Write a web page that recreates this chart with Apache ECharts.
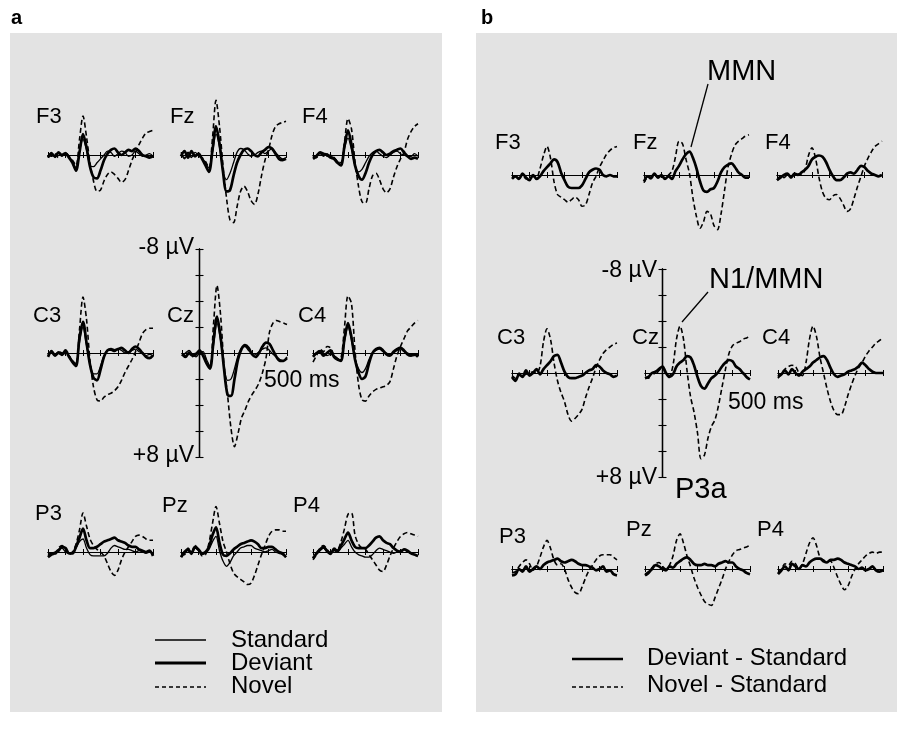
<!DOCTYPE html>
<html>
<head>
<meta charset="utf-8">
<script src="https://cdn.jsdelivr.net/npm/echarts@6/dist/echarts.min.js"></script>
<style>
html,body{margin:0;padding:0;background:#ffffff;}
#c{width:907px;height:729px;}
</style>
</head>
<body>
<div id="c"></div>
<script>
// ---- time axis (ms) ----
const times = [-100,-80,-60,-40,-20,0,20,40,60,80,100,120,140,160,180,200,220,240,260,280,300,320,340,360,380,400,420,440,460,480,500];

// ---- panel a: Standard / Deviant / Novel (µV, negative up) ----
const a_F3_std = [0.1,-0.2,0.2,-0.1,0.1, -0.2,0.1,0.5,1.0,-0.3, -1.2,-0.4,0.8,0.9,0.6, 0.3,0.0,-0.3,-0.2,0.1, -0.1,-0.3,-0.2,0.1,0.0, -0.3,-0.1,0.1,0.0,-0.1, 0.1];
const a_F3_dev = [0.2,-0.1,0.1,-0.2,0.0, -0.1,0.2,0.6,1.2,-0.2, -1.6,-0.6,0.9,1.7,1.8, 1.2,0.4,-0.1,-0.4,-0.5, -0.2,0.0,-0.2,-0.4,-0.3, -0.5,-0.3,0.0,0.1,0.2, 0.1];
const a_F3_nov = [0.0,0.1,-0.1,0.2,0.0, -0.2,0.1,0.4,0.8,-1.2, -3.0,-1.4,0.6,2.0,2.8, 2.7,2.0,1.5,1.3,1.5, 1.8,2.1,1.9,1.2,0.4, -0.2,-0.8,-1.3,-1.7,-1.8, -1.9];

const a_Fz_std = [-0.2,0.3,-0.1,0.2,-0.2, 0.0,0.2,0.6,1.0,-0.2, -1.6,-0.6,1.2,1.9,1.4, 0.6,-0.2,-0.5,-0.4,-0.1, 0.1,0.0,-0.2,-0.3,-0.1, -0.3,-0.5,-0.2,0.1,0.3, 0.2];
const a_Fz_dev = [0.1,-0.3,0.2,-0.3,0.1, -0.1,0.3,0.8,1.3,-0.4, -2.2,-0.9,1.3,2.8,2.7, 1.6,0.6,0.0,-0.4,-0.5, -0.3,0.0,0.1,-0.2,-0.4, -0.6,-0.5,-0.1,0.3,0.4, 0.3];
const a_Fz_nov = [0.0,0.2,-0.2,0.1,0.0, 0.1,0.2,0.5,1.0,-1.3, -4.2,-2.2,0.8,3.3,5.0, 5.2,4.0,2.8,2.4,2.8, 3.5,3.8,3.0,1.6,0.4, -0.4,-1.5,-2.2,-2.4,-2.5, -2.6];

const a_F4_std = [0.2,0.0,-0.2,0.1,-0.1, 0.1,0.2,0.5,0.8,-0.5, -1.3,-0.4,0.8,1.3,1.1, 0.6,0.1,-0.2,-0.3,-0.1, 0.1,0.2,0.0,-0.2,-0.3, -0.1,0.0,0.1,0.1,-0.1, 0.1];
const a_F4_dev = [0.3,0.1,-0.2,-0.1,0.0, 0.2,0.3,0.6,0.8,-0.7, -1.9,-0.8,0.8,1.6,1.9, 1.4,0.6,0.0,-0.3,-0.4, -0.2,0.0,-0.1,-0.3,-0.4, -0.5,-0.2,0.1,0.3,0.2, 0.3];
const a_F4_nov = [0.1,0.2,-0.1,0.0,0.1, 0.0,0.2,0.5,0.6,-1.0, -2.8,-2.0,0.5,2.4,3.6, 3.7,2.6,1.6,1.4,1.9, 2.6,2.9,2.6,1.7,0.9, 0.3,-0.2,-1.2,-1.8,-2.2, -2.4];

const a_C3_std = [0.2,-0.2,0.1,-0.1,0.2, 0.0,0.2,0.6,0.8,-0.8, -2.0,-0.6,0.8,1.6,1.6, 1.0,0.2,-0.2,-0.2,-0.1, -0.3,-0.2,0.0,-0.1,-0.2, -0.3,-0.1,0.0,0.2,0.1, 0.2];
const a_C3_dev = [0.3,-0.1,0.2,0.0,0.1, -0.2,0.3,0.7,1.0,-1.2, -2.4,-0.8,0.9,1.9,2.1, 1.3,0.3,-0.2,-0.3,-0.2, -0.3,-0.4,-0.2,0.0,-0.3, -0.5,-0.3,0.0,0.3,0.4, 0.2];
const a_C3_nov = [0.1,-0.1,0.2,-0.1,0.0, 0.1,0.2,0.6,0.9,-1.8, -4.3,-2.6,0.6,2.6,3.6, 3.7,3.4,3.2,3.1,2.9, 2.6,2.1,1.5,1.0,0.5, -0.1,-0.8,-1.5,-1.8,-1.9, -1.9];

const a_Cz_std = [0.2,0.0,-0.2,0.1,0.3, 0.0,-0.1,0.5,1.0,-0.6, -2.3,-1.0,1.0,2.1,2.0, 1.2,0.2,-0.4,-0.5,-0.2, 0.0,0.1,-0.1,-0.3,-0.4, -0.2,0.1,0.3,0.5,0.6, 0.3];
const a_Cz_dev = [0.1,0.3,0.0,0.2,0.1, -0.2,0.2,0.8,1.2,-0.9, -2.8,-1.3,1.2,3.2,3.3, 2.0,0.5,-0.3,-0.6,-0.4, 0.1,0.3,0.0,-0.5,-0.8, -0.7,-0.2,0.3,0.6,0.6, 0.4];
const a_Cz_nov = [0.0,0.2,-0.1,0.3,0.0, 0.1,0.0,0.6,1.1,-2.2, -5.2,-3.0,0.9,3.2,5.8, 7.2,6.2,5.0,4.4,3.7, 3.2,2.8,2.3,1.5,0.4, -1.6,-2.3,-2.5,-2.4,-2.3, -2.2];

const a_C4_std = [0.2,0.1,-0.2,0.0,0.2, 0.1,0.2,0.4,0.6,-0.9, -2.0,-1.0,0.4,1.2,1.5, 1.2,0.5,0.0,-0.2,-0.3, -0.1,0.0,0.1,0.0,-0.2, -0.3,-0.1,0.0,0.1,0.2, 0.1];
const a_C4_dev = [0.3,0.0,-0.1,0.2,0.0, -0.2,0.3,0.5,0.6,-1.1, -2.3,-1.2,0.5,1.5,2.0, 1.8,0.8,0.0,-0.3,-0.4, -0.2,0.1,0.2,-0.1,-0.3, -0.4,-0.2,0.1,0.2,0.1, 0.3];
const a_C4_nov = [0.7,0.2,-0.3,-0.1,-0.5, -0.4,0.2,0.5,0.4,-2.0, -4.4,-3.8,-0.2,2.4,3.6, 3.7,3.3,3.0,2.8,2.7, 2.6,2.5,2.2,1.2,0.2, -0.5,-1.1,-1.7,-2.0,-2.3, -2.5];

const a_P3_std = [0.3,0.1,0.0,-0.2,-0.3, 0.0,0.1,0.0,-0.3,-0.8, -1.0,-0.3,0.2,0.3,0.3, 0.3,0.3,0.1,-0.3,-0.5, -0.4,-0.3,-0.2,-0.2,-0.1, 0.0,-0.1,0.0,0.1,0.0, 0.2];
const a_P3_dev = [0.4,0.2,0.1,-0.1,-0.4, -0.3,0.1,0.1,-0.4,-1.1, -1.8,-0.9,-0.3,-0.3,-0.4, -0.6,-0.8,-0.9,-1.0,-1.1, -0.9,-0.8,-0.7,-0.5,-0.4, -0.4,-0.2,-0.1,0.0,-0.1, 0.3];
const a_P3_nov = [0.2,0.1,0.2,-0.3,-0.5, -0.2,0.2,0.0,-0.6,-1.7, -3.0,-2.0,-1.0,-0.5,-0.2, 0.0,0.3,0.9,1.5,1.8, 1.4,0.6,0.0,-0.4,-0.8, -1.2,-1.3,-1.2,-1.0,-0.9, -0.9];

const a_Pz_std = [0.3,0.1,-0.1,0.2,-0.3, -0.1,0.2,0.1,-0.2,-0.8, -1.2,-0.1,0.7,1.1,0.8, 0.3,0.0,-0.3,-0.4,-0.5, -0.5,-0.3,-0.2,-0.1,0.0, -0.1,-0.2,0.0,0.1,0.2, 0.4];
const a_Pz_dev = [0.4,0.0,-0.2,0.1,-0.4, -0.2,0.1,0.0,-0.4,-1.3, -1.9,-0.7,0.2,0.3,0.1, -0.2,-0.4,-0.6,-0.7,-0.8, -0.9,-0.8,-0.6,-0.3,-0.3, -0.4,-0.4,-0.2,0.0,0.1, 0.4];
const a_Pz_nov = [0.2,0.2,-0.3,0.0,-0.5, -0.2,0.3,0.2,-0.7,-2.2, -3.5,-2.2,-0.8,0.0,0.9, 1.6,1.9,2.1,2.3,2.5, 2.4,1.8,1.0,0.2,-0.5, -1.2,-1.6,-1.7,-1.7,-1.6, -1.6];

const a_P4_std = [0.4,0.2,-0.1,-0.3,0.0, 0.2,-0.1,0.0,-0.3,-0.6, -0.9,-0.4,0.0,0.2,0.3, 0.4,0.4,0.2,-0.1,-0.3, -0.2,-0.1,0.0,0.1,0.0, -0.1,-0.2,0.0,0.1,0.2, 0.3];
const a_P4_dev = [0.5,0.1,-0.2,-0.4,-0.1, 0.1,-0.2,-0.1,-0.5,-1.0, -1.5,-0.9,-0.4,-0.3,-0.3, -0.3,-0.5,-0.8,-1.1,-1.2, -0.9,-0.7,-0.6,-0.3,-0.1, 0.0,-0.2,-0.1,0.1,0.2, 0.3];
const a_P4_nov = [0.6,0.2,-0.3,-0.5,-0.2, 0.1,-0.3,-0.2,-0.8,-1.8, -2.9,-3.0,-1.3,-0.6,-0.3, -0.2,0.2,0.6,1.0,1.4, 1.5,1.0,0.3,-0.3,-0.8, -1.2,-1.4,-1.5,-1.4,-1.3, -1.2];

// ---- panel b: Deviant - Standard / Novel - Standard ----
const b_F3_dev = [0.3,0.1,0.3,-0.1,0.2, 0.4,0.0,0.3,0.1,-0.3, -0.6,-0.9,-1.2,-1.0,-0.2, 0.4,0.9,1.0,1.0,1.0, 0.8,0.3,-0.2,-0.4,-0.5, -0.4,0.0,0.1,0.0,0.1, 0.1];
const b_F3_nov = [0.2,0.1,0.3,0.0,0.3, 0.2,0.1,0.2,-0.5,-1.5, -2.2,-1.3,0.5,1.5,1.7, 1.9,2.1,1.9,1.7,1.9, 2.4,2.3,1.5,0.6,0.1, -0.6,-1.1,-1.6,-1.9,-2.1, -2.2];

const b_Fz_dev = [0.5,0.1,0.2,-0.1,0.2, 0.0,0.3,0.1,0.3,-0.3, -0.7,-1.2,-1.6,-1.8,-1.3, -0.5,0.5,1.2,1.3,1.1, 1.0,0.5,-0.2,-0.6,-0.8, -0.9,-0.6,-0.2,0.0,0.2, 0.2];
const b_Fz_nov = [0.6,0.2,0.3,0.0,0.2, 0.1,0.3,0.0,-0.3,-1.4, -2.6,-2.4,-1.2,-0.1,1.8, 3.2,4.1,3.6,2.8,3.0, 3.9,4.2,3.0,1.2,-0.6, -1.6,-2.3,-2.6,-2.8,-3.0, -3.1];

const b_F4_dev = [0.4,0.2,0.0,-0.1,0.2, -0.1,0.0,-0.2,-0.4,-0.7, -1.2,-1.4,-1.5,-1.4,-1.0, -0.4,0.1,0.4,0.4,0.2, -0.1,-0.2,-0.1,-0.4,-0.7, -0.6,-0.3,-0.1,0.0,0.1, 0.0];
const b_F4_nov = [0.4,0.1,0.2,0.0,0.1, 0.0,-0.1,0.0,-0.4,-1.5, -2.1,-1.3,0.2,1.3,1.8, 1.9,1.6,1.5,1.8,2.3, 2.8,2.6,1.8,0.9,0.1, -0.7,-1.3,-1.8,-2.2,-2.4, -2.6];

const b_C3_dev = [0.3,0.6,0.1,0.3,-0.2, 0.2,0.0,-0.3,0.1,-0.3, -0.6,-0.9,-1.3,-1.4,-0.8, -0.1,0.3,0.4,0.4,0.3, 0.2,0.0,-0.2,-0.3,-0.6, -0.5,-0.2,0.0,0.1,0.3, 0.2];
const b_C3_nov = [0.2,0.4,0.0,0.2,0.1, 0.0,-0.1,0.0,-0.5,-2.4, -3.4,-2.6,-0.8,0.6,1.5, 2.2,3.2,3.7,3.5,3.2, 2.8,1.9,1.1,0.4,-0.4, -1.0,-1.5,-1.8,-2.0,-2.2, -2.3];

const b_Cz_dev = [0.4,0.3,0.0,-0.1,-0.3, -0.5,0.0,0.3,0.1,-0.5, -0.8,-1.0,-1.3,-1.2,-0.6, 0.3,1.0,1.2,0.8,0.4, 0.2,-0.1,-0.5,-0.8,-1.0, -0.9,-0.5,-0.3,0.0,0.3, 0.5];
const b_Cz_nov = [0.3,0.4,0.0,0.1,-0.2, -0.4,0.1,0.2,-0.6,-2.6, -3.6,-2.6,-0.2,1.8,3.0, 4.6,6.6,6.3,5.0,4.1, 3.6,2.5,1.1,-0.3,-1.5, -2.1,-2.3,-2.4,-2.6,-2.7, -2.8];

const b_C4_dev = [0.3,0.1,-0.2,0.1,-0.3, 0.0,0.2,-0.1,-0.3,-0.5, -0.8,-1.0,-1.2,-1.3,-1.0, -0.4,0.1,0.3,0.2,0.1, -0.1,-0.2,-0.3,-0.5,-0.8, -0.6,-0.3,-0.1,0.0,0.0, 0.0];
const b_C4_nov = [0.4,0.0,-0.3,-0.5,-0.6, -0.5,0.0,0.2,-0.8,-2.6, -3.6,-2.8,-1.2,0.0,1.2, 2.2,2.9,3.2,3.2,2.6, 1.7,0.9,0.2,-0.4,-0.8, -1.3,-1.7,-2.0,-2.3,-2.5, -2.7];

const b_P3_dev = [0.5,0.4,0.0,0.2,-0.2, 0.2,0.0,-0.2,0.0,-0.3, -0.5,-0.6,-0.7,-0.8,-0.6, -0.5,-0.6,-0.7,-0.6,-0.4, -0.3,-0.3,-0.2,-0.1,0.1, 0.0,-0.2,0.2,0.1,0.4, 0.5];
const b_P3_nov = [0.3,0.2,-0.2,-0.5,-0.7, -0.4,0.1,-0.2,-0.9,-1.7, -2.2,-1.6,-0.7,-0.3,-0.4, 0.0,0.8,1.4,1.8,1.9, 1.4,0.7,0.1,-0.3,-0.7, -1.0,-1.1,-1.1,-1.1,-0.9, -0.7];

const b_Pz_dev = [0.5,0.3,0.0,-0.3,-0.2, 0.0,0.1,-0.2,-0.1,-0.4, -0.6,-0.8,-0.9,-0.7,-0.4, -0.3,-0.3,-0.4,-0.3,-0.3, -0.2,-0.4,-0.5,-0.6,-0.5, -0.5,-0.2,0.0,0.1,0.3, 0.4];
const b_Pz_nov = [0.4,0.2,-0.1,-0.4,-0.5, -0.2,0.0,-0.3,-1.0,-2.2, -2.7,-2.0,-1.0,-0.2,0.7, 1.4,2.0,2.5,2.7,2.8, 2.2,1.5,0.8,0.0,-0.6, -1.1,-1.4,-1.5,-1.6,-1.7, -1.8];

const b_P4_dev = [0.4,0.1,-0.2,0.1,-0.4, -0.2,0.0,-0.3,-0.2,-0.5, -0.7,-0.8,-0.8,-0.6,-0.5, -0.7,-0.7,-0.8,-0.7,-0.5, -0.4,-0.3,-0.2,0.0,-0.1, 0.1,0.0,-0.2,0.1,0.2, 0.1];
const b_P4_nov = [0.3,0.0,-0.4,-0.3,-0.6, -0.4,0.0,-0.4,-1.2,-2.0, -2.4,-1.8,-0.9,-0.7,-0.6, -0.6,-0.1,0.6,1.2,1.6, 1.3,0.6,0.0,-0.4,-0.7, -1.0,-1.2,-1.3,-1.2,-1.3, -1.3];

// ---- labels ----
const electrodes = ['F3','Fz','F4','C3','Cz','C4','P3','Pz','P4'];
const legendA = ['Standard','Deviant','Novel'];
const legendB = ['Deviant - Standard','Novel - Standard'];
const scaleTop = '-8 \u00b5V';
const scaleBottom = '+8 \u00b5V';
const timeLabel = '500 ms';
const annotations = ['MMN','N1/MMN','P3a'];

// tables built from the arrays
const tableA = {
  F3:[a_F3_std,a_F3_dev,a_F3_nov], Fz:[a_Fz_std,a_Fz_dev,a_Fz_nov], F4:[a_F4_std,a_F4_dev,a_F4_nov],
  C3:[a_C3_std,a_C3_dev,a_C3_nov], Cz:[a_Cz_std,a_Cz_dev,a_Cz_nov], C4:[a_C4_std,a_C4_dev,a_C4_nov],
  P3:[a_P3_std,a_P3_dev,a_P3_nov], Pz:[a_Pz_std,a_Pz_dev,a_Pz_nov], P4:[a_P4_std,a_P4_dev,a_P4_nov]
};
const tableB = {
  F3:[b_F3_dev,b_F3_nov], Fz:[b_Fz_dev,b_Fz_nov], F4:[b_F4_dev,b_F4_nov],
  C3:[b_C3_dev,b_C3_nov], Cz:[b_Cz_dev,b_Cz_nov], C4:[b_C4_dev,b_C4_nov],
  P3:[b_P3_dev,b_P3_nov], Pz:[b_Pz_dev,b_Pz_nov], P4:[b_P4_dev,b_P4_nov]
};

// ---- layout ----
const FONT = "'Liberation Sans', Arial, Helvetica, sans-serif";
const PXV = 13;       // px per µV
const PW = 105;       // plot width (-100..500 ms)
const posA = {F3:[48,155],Fz:[181,155],F4:[313,155],C3:[48,353],Cz:[182,353],C4:[313,353],P3:[48,552],Pz:[181,552],P4:[313,552]};
const posB = {F3:[512,175],Fz:[644,175],F4:[777,175],C3:[512,373],Cz:[645,373],C4:[778,373],P3:[512,569],Pz:[645,569],P4:[778,569]};
const labA = {F3:[36,117],Fz:[170,117],F4:[302,117],C3:[33,316],Cz:[167,316],C4:[298,316],P3:[35,514],Pz:[162,506],P4:[293,506]};
const labB = {F3:[495,143],Fz:[633,143],F4:[765,143],C3:[497,338],Cz:[632,338],C4:[762,338],P3:[499,537],Pz:[626,530],P4:[757,530]};

const styleStd = {color:'#000', width:1.3, type:'solid'};
const styleDev = {color:'#000', width:2.7, type:'solid'};
const styleNov = {color:'#000', width:1.6, type:[5,3]};

const grids=[], xAxes=[], yAxes=[], series=[];

function addPlot(left, base, showY, lines) {
  const gi = grids.length;
  grids.push({left:left, top: base - 8*PXV, width: PW, height: 16*PXV});
  const xi = xAxes.length;
  const yi = yAxes.length;
  const xCommon = {gridIndex:gi, type:'value', min:-100, max:500, interval:100,
    axisLine:{show:true, onZero:true, onZeroAxisIndex:yi, lineStyle:{color:'#000', width:1.2}},
    axisTick:{show:true, length:3, lineStyle:{color:'#000', width:1}},
    axisLabel:{show:false}, splitLine:{show:false}};
  xAxes.push(Object.assign({position:'bottom'}, xCommon));
  xAxes.push(Object.assign({position:'top'}, xCommon));
  const yCommon = {gridIndex:gi, type:'value', min:-8, max:8, interval:2, inverse:true, show:showY,
    axisLine:{show:true, onZero:true, onZeroAxisIndex:xi, lineStyle:{color:'#000', width:1.3}},
    axisTick:{show:true, length:4, lineStyle:{color:'#000', width:1.1}},
    axisLabel:{show:false}, splitLine:{show:false}};
  yAxes.push(Object.assign({position:'left'}, yCommon));
  if (showY) yAxes.push(Object.assign({position:'right'}, yCommon));
  lines.forEach(function(l, k){
    series.push({type:'line', xAxisIndex:xi, yAxisIndex:yi, showSymbol:false, symbol:'none',
      smooth:0.3, silent:true, z:3+k, lineStyle:l.style,
      data: times.map(function(t,i){return [t, l.data[i]];})});
  });
}

electrodes.forEach(function(e){
  const p = posA[e];
  const d = tableA[e];
  addPlot(p[0], p[1], e==='Cz', [{data:d[0],style:styleStd},{data:d[1],style:styleDev},{data:d[2],style:styleNov}]);
});
electrodes.forEach(function(e){
  const p = posB[e];
  const d = tableB[e];
  addPlot(p[0], p[1], e==='Cz', [{data:d[0],style:styleDev},{data:d[1],style:styleNov}]);
});

// ---- graphic elements ----
const G = [];
G.push({type:'rect', z:-10, shape:{x:10,y:33,width:432,height:679}, style:{fill:'#e3e3e3'}});
G.push({type:'rect', z:-10, shape:{x:476,y:33,width:421,height:679}, style:{fill:'#e3e3e3'}});
function txt(s, x, y, size, align, weight) {
  G.push({type:'text', z:50, x:x, y:y, style:{text:s, fill:'#000', font:(weight||'normal')+' '+size+'px '+FONT, align:align||'left', verticalAlign:'middle'}});
}
function ln(x1,y1,x2,y2,w,dash) {
  G.push({type:'line', z:50, shape:{x1:x1,y1:y1,x2:x2,y2:y2}, style:{stroke:'#000', lineWidth:w, lineDash:dash||null}});
}
txt('a', 11, 18, 20, 'left', 'bold');
txt('b', 481, 18, 20, 'left', 'bold');
electrodes.forEach(function(e){
  txt(e, labA[e][0], labA[e][1], 22);
  txt(e, labB[e][0], labB[e][1], 22);
});
// scale labels
txt(scaleTop, 194, 248, 23, 'right');
txt(scaleBottom, 194, 456, 23, 'right');
txt(timeLabel, 264, 381, 23, 'left');
txt(scaleTop, 657, 271, 23, 'right');
txt(scaleBottom, 657, 478, 23, 'right');
txt(timeLabel, 728, 403, 23, 'left');
// annotations
txt(annotations[0], 707, 72, 29, 'left');
ln(708, 84, 691, 147, 1.3);
txt(annotations[1], 709, 280, 29, 'left');
ln(708, 292, 682, 322, 1.3);
txt(annotations[2], 675, 490, 29, 'left');
// legend a
ln(155, 640, 206, 640, 1.3);
ln(155, 663, 206, 663, 3);
ln(155, 687, 206, 687, 1.3, [4,3]);
txt(legendA[0], 231, 640, 24);
txt(legendA[1], 231, 663, 24);
txt(legendA[2], 231, 686, 24);
// legend b
ln(572, 659, 623, 659, 2.7);
ln(572, 687, 623, 687, 1.3, [4,3]);
txt(legendB[0], 647, 658, 24);
txt(legendB[1], 647, 685, 24);

const chart = echarts.init(document.getElementById('c'));
chart.setOption({
  animation:false,
  backgroundColor:'#ffffff',
  grid:grids, xAxis:xAxes, yAxis:yAxes, series:series,
  graphic:{elements:G}
});
</script>
</body>
</html>
